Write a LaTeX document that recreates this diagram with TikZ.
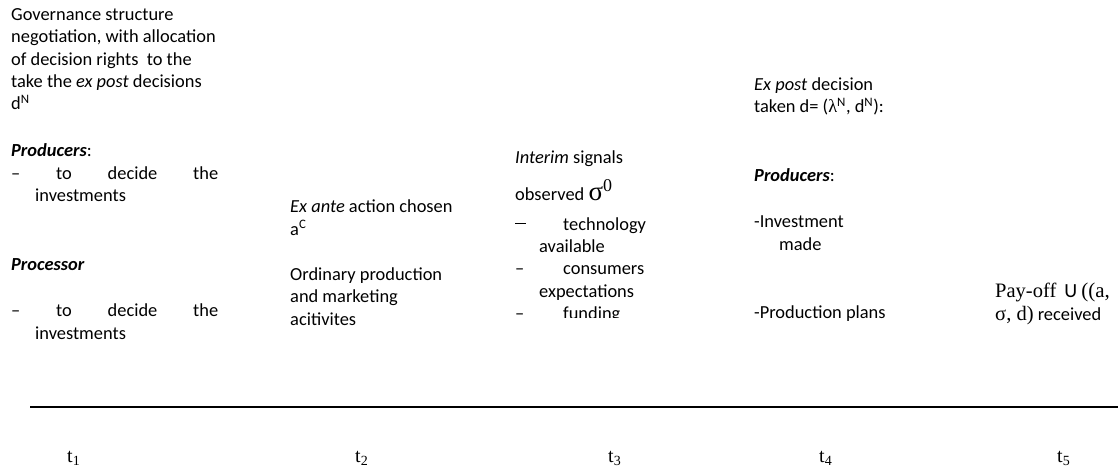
\documentclass[tikz,border=0pt]{standalone}
\usepackage{fontspec}
\setmainfont{Carlito}
\newfontfamily\timesfont{Liberation Serif}
\tikzset{
  txt/.style={anchor=base west, inner sep=0pt, align=left,
    font=\fontsize{18.4}{22.4}\selectfont},
  tlabel/.style={anchor=base west, inner sep=0pt,
    font=\timesfont\fontsize{20}{22}\selectfont},
}
\begin{document}
\begin{tikzpicture}[x=1pt,y=-1pt]
  \useasboundingbox (0,0) rectangle (1118,468);

  % t1: governance (multi-line nodes sit on their last line)
  \node[txt] (gov) at (11,110) {Governance structure\\negotiation, with allocation\\of decision rights\ \ to the\\take the \textit{ex post} decisions\\d\textsuperscript{N}};
  \node[txt] (prodA) at (11,157) {\textbf{\textit{Producers}}:};
  \node[txt] (prodAitem) at (11,201.7) {\hbox to 207pt{–\hfill to\hfill decide\hfill the}\\\hspace*{24pt}investments};
  \node[txt] (proc) at (11,270) {\textbf{\textit{Processor}}};
  \node[txt] (procitem) at (11,339) {\hbox to 207pt{–\hfill to\hfill decide\hfill the}\\\hspace*{24pt}investments};

  % t2: ex ante
  \node[txt] (exante) at (290,235) {\textit{Ex ante} action chosen\\a\textsuperscript{C}};
  \node[txt] (ordinary) at (290,325) {Ordinary production\\and marketing\\acitivites};

  % t3: interim signals
  \node[txt] (interim) at (515,163) {\textit{Interim} signals};
  \node[txt] (observed) at (515,200.7) {observed\ {\timesfont\fontsize{27}{27}\selectfont σ\raisebox{9pt}{\fontsize{18}{18}\selectfont 0}}};
  \begin{scope}
    \clip (500,215) rectangle (700,317);
    \node[txt] (signals) at (515,319.6) {\makebox[48pt][l]{\raisebox{6pt}{\rule{11pt}{1.3pt}}}technology\\\hspace*{24pt}available\\\makebox[48pt][l]{–}consumers\\\hspace*{24pt}expectations\\\makebox[48pt][l]{–}funding};
  \end{scope}

  % t4: ex post
  \node[txt] (expost) at (754,113) {\textit{Ex post} decision\\taken d= ({\timesfont λ}\textsuperscript{N}, d\textsuperscript{N}):};
  \node[txt] (prodB) at (754,181.7) {\textbf{\textit{Producers}}:};
  \node[txt] (invest) at (754,250) {-Investment\\\hspace*{25pt}made};
  \node[txt] (plans) at (754,318) {-Production plans};

  % t5: pay-off
  \node[txt] (payoff) at (995,320) {{\timesfont\fontsize{20.5}{22}\selectfont Pay-off}\hspace{8pt}{\fontsize{20}{22}\selectfont U} {\timesfont\fontsize{21}{22}\selectfont ((a,}\\{\timesfont\fontsize{20.5}{22}\selectfont σ, d)} received};

  % time line
  \coordinate (start) at (30,406.7);
  \coordinate (end) at (1118,406.7);
  \draw[line width=2pt] (start) -- (end);

  \node[tlabel] (t1) at (67,462) {t\textsubscript{1}};
  \node[tlabel] (t2) at (355,462) {t\textsubscript{2}};
  \node[tlabel] (t3) at (608,462) {t\textsubscript{3}};
  \node[tlabel] (t4) at (819,462) {t\textsubscript{4}};
  \node[tlabel] (t5) at (1057,462) {t\textsubscript{5}};
\end{tikzpicture}
\end{document}
